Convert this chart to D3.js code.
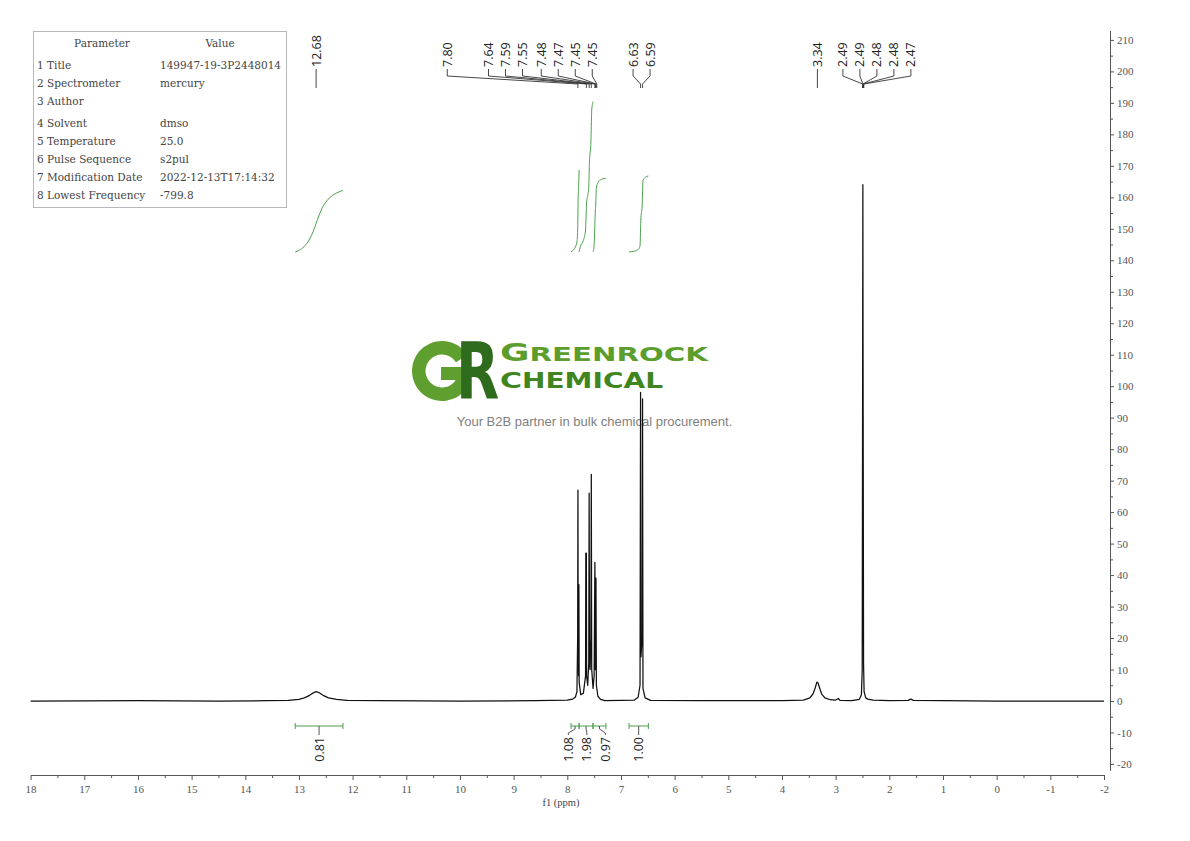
<!DOCTYPE html>
<html><head><meta charset="utf-8">
<script src="https://cdn.jsdelivr.net/npm/d3@7"></script>
<style>
html,body{margin:0;padding:0;background:#fff;}
svg{display:block;}
</style></head>
<body>
<svg id="c" width="1190" height="841"></svg>
<script>
// ---------------- DATA ----------------
// 1H NMR spectrum (ppm, intensity)
const specPpm = [18.0,16.0,14.5,13.6,13.2,13.0,12.9,12.8,12.73,12.68,12.63,12.55,12.45,12.3,12.1,11.5,10.0,8.6,8.0,7.9,7.85,7.82,
  7.807,7.802,7.797,7.79,7.784,7.779,7.75,7.70,7.66,7.655,7.650,7.645,7.640,7.62,7.60,7.593,7.585,7.575,7.56,7.553,7.545,7.52,7.50,
  7.486,7.478,7.472,7.466,7.458,7.43,7.38,7.3,7.0,6.75,6.68,6.645,6.635,6.628,6.605,6.598,6.59,6.55,6.45,5.5,4.0,3.6,3.48,3.42,3.38,
  3.35,3.33,3.30,3.26,3.2,3.1,3.0,2.95,2.92,2.7,2.56,2.52,2.505,2.497,2.493,2.489,2.48,2.47,2.44,2.4,2.3,2.0,1.65,1.6,1.55,1.0,0,-2];
const specInt = [0,0.1,0,0.1,0.2,0.5,1.0,1.8,2.6,3.0,2.7,1.8,1.0,0.5,0.2,0.1,0,0.1,0.3,0.6,1.2,3,
  20,67,15,8,37,6,2,2.5,8,47,12,47,8,5,12,66,12,10,20,72,10,4,8,
  44,10,12,39,5,1.5,0.5,0.1,0.2,0.3,1.2,5,98,14,20,96,4,1,0.2,0.1,0.1,0.3,1,2.3,4.2,
  6.0,5.8,4.2,2.2,1.0,0.4,0.3,0.8,0.2,0.1,0.5,2,10,107,164,107,12,3,1,0.6,0.3,0.1,0.2,0.6,0.2,0.1,0,0];

// peak picking labels
const peakLabels = ["12.68","7.80","7.64","7.59","7.55","7.48","7.47","7.45","7.45","6.63","6.59","3.34","2.49","2.49","2.48","2.48","2.47"];
const peakPpm    = [12.68,7.802,7.645,7.593,7.553,7.486,7.472,7.466,7.45,6.635,6.598,3.34,2.497,2.493,2.489,2.485,2.475];
const peakGroup  = [0,1,1,1,1,1,1,1,1,2,2,3,4,4,4,4,4];

// integrals
const intFrom  = [13.07,7.93,7.78,7.52,6.85];
const intTo    = [12.18,7.78,7.52,7.28,6.49];
const intValue = [0.81,1.08,1.98,0.97,1.00];
const intGroup = [0,1,1,1,2];

// axis ticks
const xTicks = d3.range(-2,18.001,1);
const yTicks = d3.range(-20,210.001,10);

// parameter table
const paramNames  = ["1 Title","2 Spectrometer","3 Author","4 Solvent","5 Temperature","6 Pulse Sequence","7 Modification Date","8 Lowest Frequency"];
const paramValues = ["149947-19-3P2448014","mercury","","dmso","25.0","s2pul","2022-12-13T17:14:32","-799.8"];

// ---------------- CHART ----------------
const svg = d3.select("#c");
const x = d3.scaleLinear().domain([18,-2]).range([30.6,1104]);
const y = d3.scaleLinear().domain([-22,213]).range([701+22*3.148, 701-213*3.148]);
const yInt = d3.scaleLinear().domain([0,1]).range([252,176]);

const serif = "'Liberation Serif','DejaVu Serif',serif";
const sans = "'Open Sans','Liberation Sans',sans-serif";

// ---- watermark ----
const wm = svg.append("g");
const gArc = d3.arc().innerRadius(16.5).outerRadius(30).startAngle(0.5*Math.PI).endAngle(2.32*Math.PI);
wm.append("path").attr("d", gArc()).attr("transform","translate(442,371)").attr("fill","#5f9f2f");
wm.append("rect").attr("x",441).attr("y",367).attr("width",28).attr("height",13).attr("fill","#5f9f2f");
wm.append("text").attr("x",0).attr("y",0).attr("transform","translate(456,399) scale(0.72,1)")
  .attr("font-family","'DejaVu Sans',sans-serif").attr("font-weight","bold").attr("font-size",78)
  .attr("fill","#2f6b1c").text("R");
wm.append("text").attr("x",500).attr("y",361).attr("font-family","'DejaVu Sans',sans-serif").attr("font-weight","bold")
  .attr("fill","#5c9e2e").attr("textLength",208).attr("lengthAdjust","spacingAndGlyphs")
  .call(t=>{t.append("tspan").attr("font-size",24).text("G");t.append("tspan").attr("font-size",19.5).text("REENROCK");});
wm.append("text").attr("x",500).attr("y",387.5).attr("font-family","'DejaVu Sans',sans-serif").attr("font-weight","bold")
  .attr("fill","#3f8520").attr("textLength",163).attr("lengthAdjust","spacingAndGlyphs")
  .call(t=>{t.append("tspan").attr("font-size",22).text("C");t.append("tspan").attr("font-size",20.5).text("HEMICAL");});
wm.append("text").attr("x",594.5).attr("y",426).attr("text-anchor","middle")
  .attr("font-family","'Liberation Sans',Arial,sans-serif").attr("font-size",13).attr("fill","#808080")
  .text("Your B2B partner in bulk chemical procurement.");

// ---- parameter table ----
const tb = svg.append("g");
const tfont = "'DejaVu Serif','Liberation Serif',serif";
tb.append("rect").attr("x",33.5).attr("y",31.5).attr("width",253).attr("height",176)
  .attr("fill","#fff").attr("stroke","#b8b8b8");
tb.append("text").attr("x",102).attr("y",47).attr("text-anchor","middle").attr("font-family",tfont).attr("font-size",10.5).attr("fill","#444").text("Parameter");
tb.append("text").attr("x",220).attr("y",47).attr("text-anchor","middle").attr("font-family",tfont).attr("font-size",10.5).attr("fill","#444").text("Value");
const rowY = [69,87,105,127,145,163,181,199];
paramNames.forEach((n,i)=>{
  tb.append("text").attr("x",37).attr("y",rowY[i]).attr("font-family",tfont).attr("font-size",10.5).attr("fill","#444").text(n);
  tb.append("text").attr("x",160).attr("y",rowY[i]).attr("font-family",tfont).attr("font-size",10.5).attr("fill","#444").text(paramValues[i]);
});

// ---- axes ----
const axColor = "#555";
svg.append("g").attr("transform","translate(0,775)")
  .call(d3.axisBottom(x).tickValues(xTicks).tickSize(5).tickSizeOuter(0).tickPadding(5).tickFormat(d=>d));
svg.append("g").attr("transform","translate(0,775)")
  .call(d3.axisBottom(x).tickValues(d3.range(-1.5,18,1)).tickSize(3).tickSizeOuter(0).tickFormat(""))
  .select(".domain").remove();
svg.append("g").attr("transform","translate(1110,0)")
  .call(d3.axisRight(y).tickValues(yTicks).tickSize(4).tickSizeOuter(0).tickPadding(3).tickFormat(d=>d));
svg.append("g").attr("transform","translate(1110,0)")
  .call(d3.axisRight(y).tickValues(d3.range(-15,213,10)).tickSize(3).tickSizeOuter(0).tickFormat(""))
  .select(".domain").remove();
svg.selectAll(".domain, .tick line").attr("stroke",axColor);
svg.selectAll(".tick text").attr("fill","#555").attr("font-family",serif).attr("font-size",11);
svg.append("text").attr("x",561).attr("y",806).attr("text-anchor","middle").attr("font-family",serif)
  .attr("font-size",10.5).attr("fill","#444").text("f1 (ppm)");

// ---- spectrum ----
const spec = specPpm.map((p,i)=>[p,specInt[i]]);
svg.append("path").datum(spec)
  .attr("d", d3.line().x(d=>x(d[0])).y(d=>y(d[1])))
  .attr("fill","none").attr("stroke","#111").attr("stroke-width",1.25).attr("stroke-linejoin","round");

// ---- integrals ----
const green = "#4aa04a";
function interp(p){
  for(let i=0;i<specPpm.length-1;i++){
    const a=specPpm[i], b=specPpm[i+1];
    if(p<=a && p>=b){ const t=(a-p)/(a-b); return specInt[i]+t*(specInt[i+1]-specInt[i]); }
  }
  return 0;
}
intFrom.forEach((f,k)=>{
  const t = intTo[k];
  const pts = [[f,interp(f)]];
  specPpm.forEach((p,i)=>{ if(p<f && p>t) pts.push([p,specInt[i]]); });
  pts.push([t,interp(t)]);
  let cum=0; const cs=[[pts[0][0],0]];
  for(let i=1;i<pts.length;i++){ cum += (pts[i-1][0]-pts[i][0])*(pts[i-1][1]+pts[i][1])/2; cs.push([pts[i][0],cum]); }
  const tot = cum;
  svg.append("path").datum(cs)
    .attr("d", d3.line().x(d=>x(d[0])).y(d=>yInt(d[1]/tot*intValue[k])).curve(d3.curveMonotoneX))
    .attr("fill","none").attr("stroke",green).attr("stroke-width",1);
});
// integral bars & labels
const barY = 726;
const intLabelX = intFrom.map((f,k)=>(x(f)+x(intTo[k]))/2);
d3.groups(d3.range(intFrom.length), k=>intGroup[k]).forEach(([g,idx])=>{
  const cx = d3.mean(idx,k=>(x(intFrom[k])+x(intTo[k]))/2);
  idx.forEach((k,j)=>{ intLabelX[k] = idx.length>1 ? cx + (j-(idx.length-1)/2)*18.5 : intLabelX[k]; });
});
intFrom.forEach((f,k)=>{
  const x1=x(f), x2=x(intTo[k]), cx=(x1+x2)/2, lx=intLabelX[k];
  const g = svg.append("g");
  g.append("line").attr("x1",x1).attr("x2",x2).attr("y1",barY).attr("y2",barY).attr("stroke",green);
  g.append("line").attr("x1",x1).attr("x2",x1).attr("y1",barY-3).attr("y2",barY+3).attr("stroke",green);
  g.append("line").attr("x1",x2).attr("x2",x2).attr("y1",barY-3).attr("y2",barY+3).attr("stroke",green);
  g.append("path").attr("d",`M${cx},${barY}L${cx},${barY+3}L${lx},${barY+7}L${lx},${barY+9}`)
    .attr("fill","none").attr("stroke","#555");
  g.append("text").attr("transform",`translate(${lx+4.5},${barY+11}) rotate(-90)`).attr("text-anchor","end")
    .attr("font-family",sans).attr("font-size",12.5).attr("fill","#222").text(intValue[k].toFixed(2));
});

// ---- peak labels ----
const sp = 17;
const groups = d3.groups(d3.range(peakPpm.length), i=>peakGroup[i]).map(([g,idx])=>{
  // offsets within group: base spacing, widened where neighbouring peaks are far apart
  const off=[0];
  for(let j=1;j<idx.length;j++){
    const dp = peakPpm[idx[j-1]]-peakPpm[idx[j]];
    off.push(off[j-1]+sp+250*Math.max(0,dp-0.06));
  }
  const w = off[off.length-1];
  const c = d3.mean(idx,i=>x(peakPpm[i]));
  return {idx, n:idx.length, off, w, left:c-w/2};
});
// resolve overlaps: the larger group moves away, keeping a gap that grows with its size
for(let iter=0;iter<5;iter++){
  for(let i=0;i<groups.length-1;i++){
    const A=groups[i], B=groups[i+1];
    const gap = 5.1*Math.max(A.n,B.n);
    const aRight=A.left+A.w, need=B.left-gap-aRight;
    if(need<0){ if(A.n>=B.n) A.left+=need; else B.left-=need; }
  }
}
const labelX = [];
groups.forEach(G=>G.idx.forEach((i,j)=>labelX[i]=G.left+G.off[j]));
const textBottom = 67;
peakPpm.forEach((p,i)=>{
  const px=x(p), lx=labelX[i];
  const single = groups.find(G=>G.idx.includes(i)).n===1;
  const d = single ? `M${px},${textBottom+2}L${px},88`
                   : `M${lx},${textBottom+2}L${lx},76L${px},84L${px},88`;
  svg.append("path").attr("d",d).attr("fill","none").attr("stroke","#333").attr("stroke-width",0.9);
  svg.append("text").attr("transform",`translate(${lx+4.5},${textBottom}) rotate(-90)`)
    .attr("font-family",sans).attr("font-size",12.5).attr("fill","#222").text(peakLabels[i]);
});
</script>
</body></html>
